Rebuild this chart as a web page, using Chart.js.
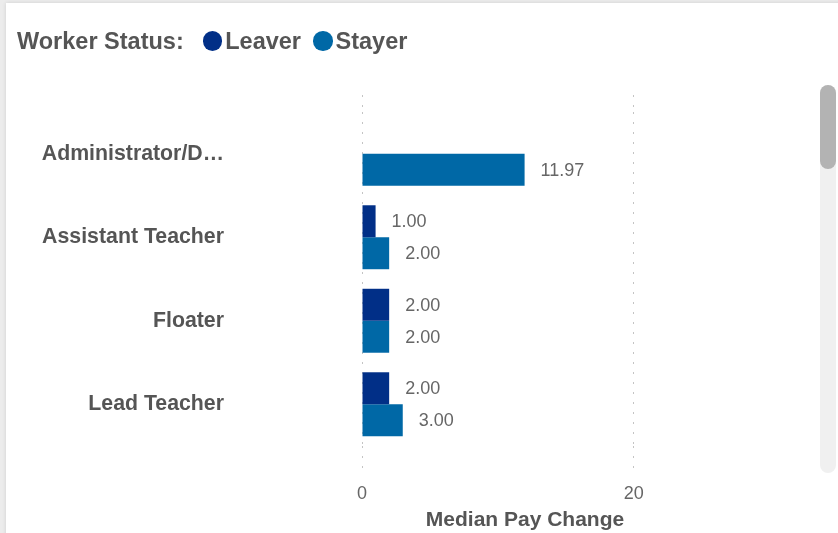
<!DOCTYPE html>
<html>
<head>
<meta charset="utf-8">
<script src="https://cdn.jsdelivr.net/npm/chart.js@4"></script>
<style>
  html, body { margin: 0; padding: 0; }
  body { width: 838px; height: 533px; background: #ececec; position: relative; overflow: hidden;
         font-family: "Liberation Sans", Arial, sans-serif; }
  #card { position: absolute; left: 6px; top: 3px; width: 840px; height: 540px; background: #fff;
          box-shadow: 0 0 4px rgba(0,0,0,0.12); }
  #wrap { position: absolute; left: 0; top: 0; width: 838px; height: 533px; }
  #legend { position: absolute; left: 17px; top: 27px; height: 28px; line-height: 28px; display: flex;
            align-items: center; font-size: 23.5px; font-weight: bold; color: #555; white-space: nowrap; }
  #legend .ttl { margin-right: 19px; }
  #legend .dot { width: 19.5px; height: 19.5px; border-radius: 50%; margin-right: 3px; display: inline-block; }
  #legend .item { display: flex; align-items: center; }
  #legend .item + .item { margin-left: 12px; }
  .track { position: absolute; left: 820px; top: 85px; width: 16px; height: 388px; background: #f0f0f0; border-radius: 8px; }
  .thumb { position: absolute; left: 820px; top: 85px; width: 16px; height: 84px; background: #b3b3b3; border-radius: 8px; }
</style>
</head>
<body>
<div id="card"></div>
<div id="wrap"><canvas id="chart" width="838" height="533"></canvas></div>
<div id="legend"></div>
<div class="track"></div>
<div class="thumb"></div>
<script>
var categories = ['Administrator/D\u2026', 'Assistant Teacher', 'Floater', 'Lead Teacher'];
var leaver = [null, 1.00, 2.00, 2.00];
var stayer = [11.97, 2.00, 2.00, 3.00];
var seriesNames = ['Leaver', 'Stayer'];
var seriesColors = ['#012f87', '#0068a6'];
var xTicks = [0, 20];
var xMax = 24;

// legend
var lg = document.getElementById('legend');
var html = '<span class="ttl">Worker Status:</span>';
seriesNames.forEach(function(n, i){
    html += '<span class="item"><span class="dot" style="background:' + seriesColors[i] + '"></span>' + n + '</span>';
});
lg.innerHTML = html;

// value labels next to bars
var barLabels = {
    id: 'barLabels',
    afterDatasetsDraw: function(chart){
        var ctx = chart.ctx;
        ctx.save();
        ctx.font = '18px "Liberation Sans", Arial, sans-serif';
        ctx.fillStyle = '#666666';
        ctx.textAlign = 'left';
        ctx.textBaseline = 'middle';
        chart.data.datasets.forEach(function(ds, i){
            var meta = chart.getDatasetMeta(i);
            meta.data.forEach(function(bar, j){
                var v = ds.data[j];
                if (v === null || v === undefined) return;
                ctx.fillText(v.toFixed(2), bar.x + 16, bar.y + 1);
            });
        });
        ctx.restore();
    }
};

function fixTicks(scale){
    scale.ticks = xTicks.map(function(v){ return {value: v}; });
}

var dotted = [2, 8];
var gridGray = '#c4c4c4';

var ctx = document.getElementById('chart').getContext('2d');
var myChart = new Chart(ctx, {
    type: 'bar',
    data: {
        labels: categories,
        datasets: [{
            label: seriesNames[0],
            data: leaver,
            backgroundColor: seriesColors[0],
            borderWidth: 0
        },
        {
            label: seriesNames[1],
            data: stayer,
            backgroundColor: seriesColors[1],
            borderWidth: 0
        }]
    },
    options: {
        indexAxis: 'y',
        responsive: false,
        animation: false,
        datasets: {
            bar: { categoryPercentage: 0.766, barPercentage: 1.0 }
        },
        layout: {
            padding: { top: 95, right: 150, bottom: 0, left: 0 }
        },
        plugins: {
            legend: { display: false },
            tooltip: { enabled: false }
        },
        scales: {
            x: {
                position: 'bottom',
                min: 0,
                max: xMax,
                afterBuildTicks: fixTicks,
                afterFit: function(scale){ scale.height = 87; },
                grid: {
                    color: gridGray,
                    lineWidth: 1,
                    drawTicks: true,
                    tickLength: 29,
                    tickColor: gridGray,
                    tickBorderDash: dotted
                },
                border: { display: false, dash: dotted },
                ticks: {
                    padding: 8,
                    color: '#666666',
                    font: { family: '"Liberation Sans", Arial, sans-serif', size: 18 }
                },
                title: {
                    display: true,
                    text: 'Median Pay Change',
                    color: '#555',
                    padding: { top: 0, bottom: 0 },
                    font: { family: '"Liberation Sans", Arial, sans-serif', size: 21, weight: 'bold' }
                }
            },
            // top axis only extends the dotted grid lines above the bars
            x2: {
                position: 'top',
                axis: 'x',
                min: 0,
                max: xMax,
                afterBuildTicks: fixTicks,
                afterFit: function(scale){ scale.height = 17; },
                grid: {
                    drawOnChartArea: false,
                    drawTicks: true,
                    tickLength: 17,
                    tickColor: gridGray,
                    tickBorderDash: dotted
                },
                border: { display: false },
                ticks: { display: false }
            },
            y: {
                offset: true,
                afterFit: function(scale){
                    scale.width = 362;
                    scale.paddingTop = 0;
                    scale.paddingBottom = 0;
                },
                grid: { display: false, drawTicks: false },
                border: { display: false },
                ticks: {
                    padding: 138,
                    color: '#555',
                    font: { family: '"Liberation Sans", Arial, sans-serif', size: 21.3, weight: 'bold' }
                }
            }
        }
    },
    plugins: [barLabels]
});
</script>
</body>
</html>
